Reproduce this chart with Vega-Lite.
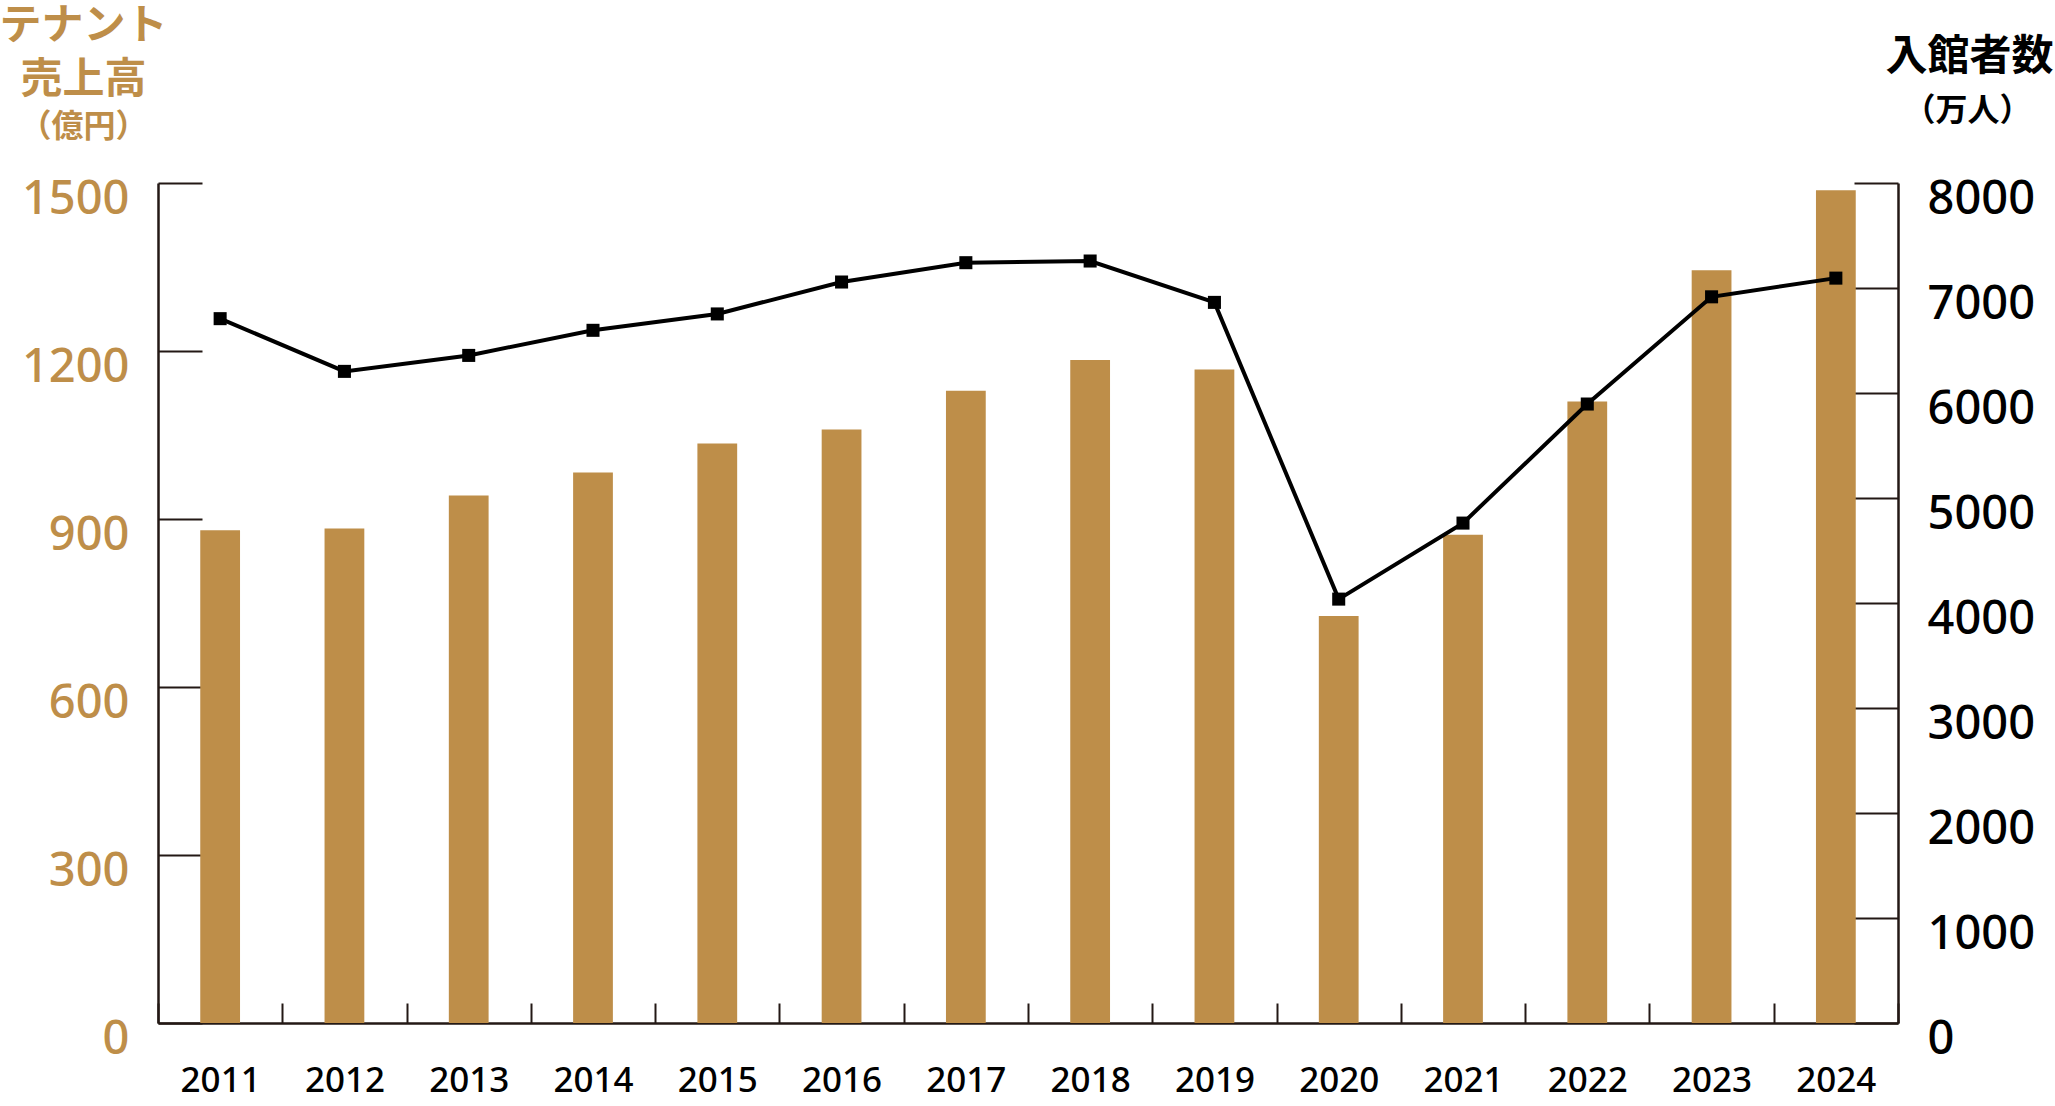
{
  "$schema": "https://vega.github.io/schema/vega-lite/v6.json",
  "width": 1740,
  "height": 840,
  "autosize": {"type": "none"},
  "padding": {"left": 158, "top": 183, "right": 157, "bottom": 83},
  "background": "white",
  "config": {"view": {"stroke": null}, "font": "Noto Sans CJK JP"},
  "data": {
    "values": [
      {"year": "2011", "sales": 880, "visitors": 6708},
      {"year": "2012", "sales": 883, "visitors": 6206},
      {"year": "2013", "sales": 942, "visitors": 6358},
      {"year": "2014", "sales": 983, "visitors": 6597},
      {"year": "2015", "sales": 1035, "visitors": 6753},
      {"year": "2016", "sales": 1060, "visitors": 7057},
      {"year": "2017", "sales": 1129, "visitors": 7241},
      {"year": "2018", "sales": 1184, "visitors": 7257},
      {"year": "2019", "sales": 1167, "visitors": 6863},
      {"year": "2020", "sales": 727, "visitors": 4037},
      {"year": "2021", "sales": 872, "visitors": 4761},
      {"year": "2022", "sales": 1110, "visitors": 5895},
      {"year": "2023", "sales": 1344, "visitors": 6916},
      {"year": "2024", "sales": 1487, "visitors": 7094}
    ]
  },
  "layer": [
    {
      "mark": {"type": "bar", "color": "#BE8E49", "width": {"band": 0.32}},
      "encoding": {
        "x": {
          "field": "year", "type": "ordinal",
          "scale": {"paddingInner": 0, "paddingOuter": 0},
          "axis": {
            "orient": "bottom", "tickBand": "extent", "tickSize": -20, "tickWidth": 2,
            "tickColor": "#231815", "domainColor": "#231815", "domainWidth": 2.5,
            "labelAngle": 0, "labelFont": "Noto Sans", "labelFontSize": 35, "labelFontWeight": 500,
            "labelColor": "#000000", "labelPadding": 60, "labelBaseline": "top",
            "title": "（億円）", "titleFont": "Noto Sans CJK JP", "titleFontSize": 32, "titleFontWeight": "bold",
            "titleColor": "#BE8E49", "titleAngle": 0, "titleAlign": "center", "titleBaseline": "middle",
            "titleX": -75, "titleY": -897
          }
        },
        "y": {
          "field": "sales", "type": "quantitative",
          "scale": {"domain": [0, 1500], "nice": false},
          "axis": {
            "orient": "left", "values": [0, 300, 600, 900, 1200, 1500], "format": "d", "grid": false,
            "tickSize": -44, "tickWidth": 2, "tickColor": "#231815",
            "domainColor": "#231815", "domainWidth": 2.5,
            "labelPadding": 73, "labelOffset": 16, "labelFont": "Noto Sans", "labelFontSize": 47,
            "labelFontWeight": 500, "labelColor": "#BE8E49",
            "title": ["テナント", "売上高"], "titleFont": "Noto Sans CJK JP", "titleFontSize": 42,
            "titleFontWeight": "bold", "titleColor": "#BE8E49", "titleAngle": 0, "titleAlign": "center",
            "titleBaseline": "middle", "titleX": -75, "titleY": -158, "titleLineHeight": 54
          }
        }
      }
    },
    {
      "mark": {
        "type": "line", "color": "#000000", "strokeWidth": 4,
        "point": {"shape": "square", "size": 170, "filled": true, "color": "#000000"}
      },
      "encoding": {
        "x": {
          "field": "year", "type": "ordinal",
          "scale": {"paddingInner": 0, "paddingOuter": 0},
          "axis": {
            "orient": "top", "domain": false, "ticks": false, "labels": false, "grid": false,
            "title": "（万人）", "titleFont": "Noto Sans CJK JP", "titleFontSize": 32, "titleFontWeight": "bold",
            "titleColor": "#000000", "titleAngle": 0, "titleAlign": "center", "titleBaseline": "middle",
            "titleX": 1809, "titleY": -73
          }
        },
        "y": {
          "field": "visitors", "type": "quantitative",
          "scale": {"domain": [0, 8000], "nice": false},
          "axis": {
            "orient": "right", "values": [0, 1000, 2000, 3000, 4000, 5000, 6000, 7000, 8000], "format": "d", "grid": false,
            "tickSize": -44, "tickWidth": 2, "tickColor": "#231815",
            "domainColor": "#231815", "domainWidth": 2.5,
            "labelPadding": 73, "labelOffset": 16, "labelFont": "Noto Sans", "labelFontSize": 47,
            "labelFontWeight": 500, "labelColor": "#000000",
            "title": "入館者数", "titleFont": "Noto Sans CJK JP", "titleFontSize": 42,
            "titleFontWeight": "bold", "titleColor": "#000000", "titleAngle": 0, "titleAlign": "center",
            "titleBaseline": "middle", "titleX": 71, "titleY": -127
          }
        }
      }
    }
  ],
  "resolve": {"scale": {"y": "independent"}, "axis": {"y": "independent", "x": "independent"}}
}
